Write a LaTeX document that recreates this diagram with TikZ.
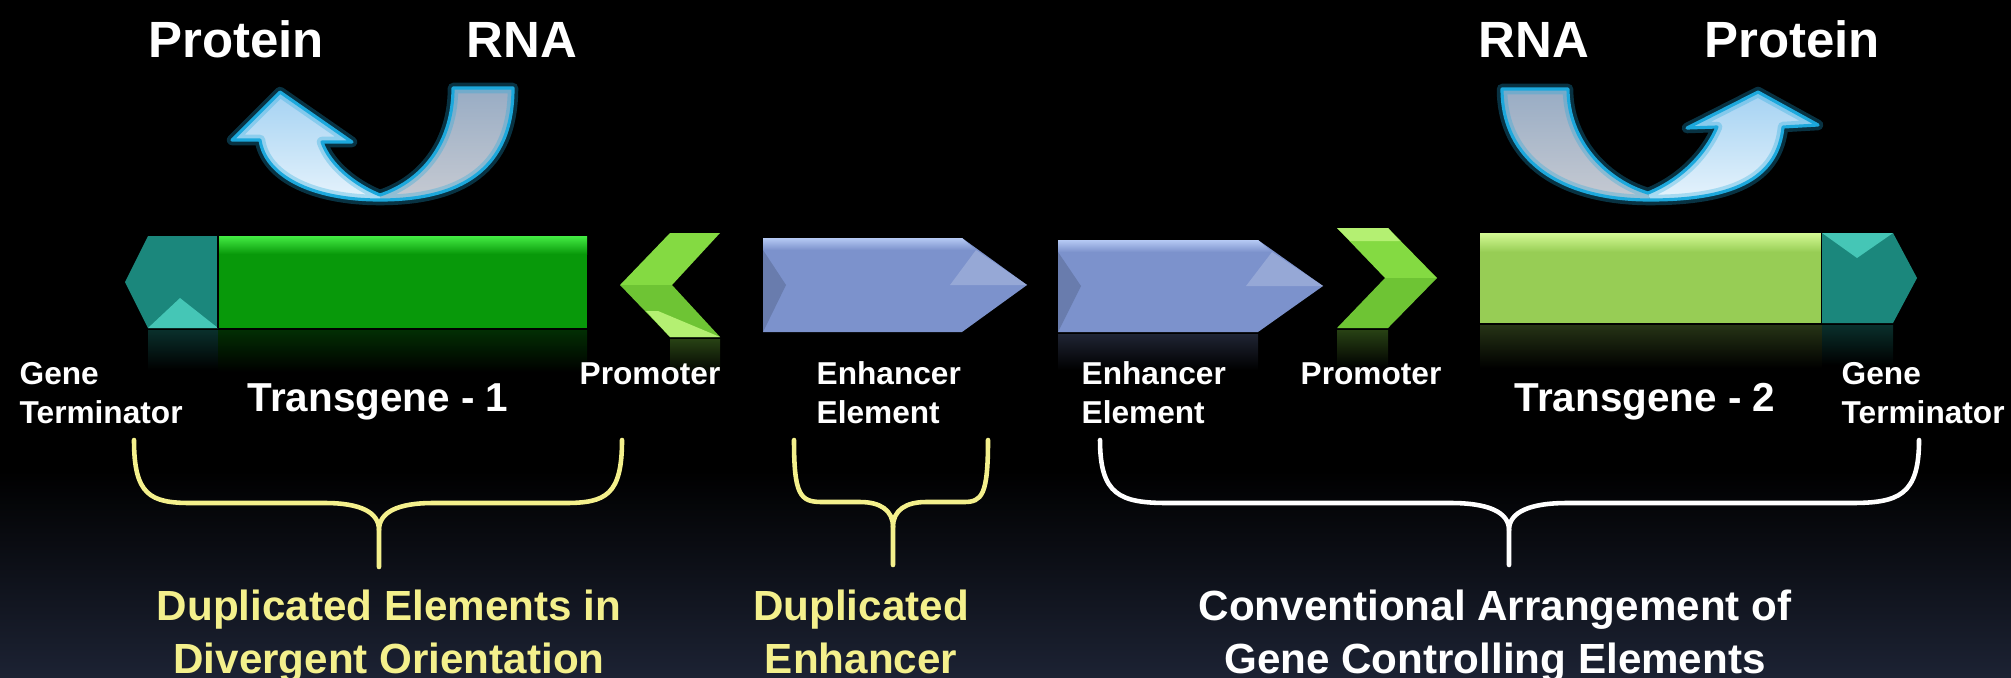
\documentclass[tikz,border=0pt]{standalone}
\usepackage{fontspec}
\setmainfont{Liberation Sans}
\definecolor{glow}{HTML}{1CA8DC}
\definecolor{bgbot}{HTML}{1C2233}
\definecolor{term}{HTML}{1B877C}
\definecolor{termlt}{HTML}{45C6B6}
\definecolor{tg1}{HTML}{08990A}
\definecolor{tg1lt}{HTML}{44EC44}
\definecolor{tg2}{HTML}{97CD55}
\definecolor{tg2lt}{HTML}{D4FA94}
\definecolor{prom}{HTML}{84DA42}
\definecolor{promdk}{HTML}{6EC434}
\definecolor{promlt}{HTML}{B4F072}
\definecolor{enh}{HTML}{7C92CC}
\definecolor{enhlt}{HTML}{B6CAF4}
\definecolor{pale}{HTML}{F4F08C}
\definecolor{protlt}{HTML}{E6F3FC}
\definecolor{protdk}{HTML}{A4D2F2}
\definecolor{rnalt}{HTML}{C6CAD2}
\definecolor{rnadk}{HTML}{98ACC4}
\begin{document}
\begin{tikzpicture}[x=.1mm,y=-.1mm,line join=round,
  toplbl/.style={text=white,inner sep=0pt,font=\bfseries\fontsize{14.5}{17}\selectfont},
  genelbl/.style={text=white,inner sep=0pt,font=\bfseries\fontsize{11.5}{14}\selectfont},
  lbl/.style={text=white,inner sep=0pt,align=left,font=\bfseries\fontsize{9}{11.1}\selectfont},
  capt/.style={inner sep=0pt,align=center,font=\bfseries\fontsize{12}{15}\selectfont},
  brc/.style={line width=1.3pt,line cap=round},
  rim/.style={draw=glow,line width=.9pt},
  halo/.style={draw=glow,line width=3pt,opacity=.3}]
  \fill[black] (0,0) rectangle (2011,677);
  \shade[top color=black,bottom color=bgbot] (0,470) rectangle (2011,677);
  \useasboundingbox (0,0) rectangle (2011,677);
  % reflections
  \shade[top color=term!35!black,bottom color=black] (148,330) rectangle (218,370);
  \shade[top color=tg1!30!black,bottom color=black] (218,330) rectangle (587,372);
  \shade[top color=prom!30!black,bottom color=black] (670,339) rectangle (720,375);
  \shade[top color=enh!25!black,bottom color=black] (1058,334) rectangle (1258,370);
  \shade[top color=prom!30!black,bottom color=black] (1337,330) rectangle (1388,368);
  \shade[top color=tg2!25!black,bottom color=black] (1480,325) rectangle (1822,368);
  \shade[top color=term!35!black,bottom color=black] (1822,325) rectangle (1893,365);
  % gene terminator 1
  \fill[term] (125,282) -- (148,236) -- (218,236) -- (218,328) -- (148,328) -- cycle;
  \fill[termlt] (148,328) -- (180,298) -- (218,328) -- cycle;
  % transgene 1
  \fill[tg1] (218,236) rectangle (587,328);
  \shade[top color=tg1lt,bottom color=tg1] (218,236) rectangle (587,254);
  \draw[black,line width=.8pt] (218,236) -- (218,328);
  % promoter 1
  \fill[prom] (620,285) -- (670,233) -- (720,233) -- (672,285) -- cycle;
  \fill[promdk] (620,285) -- (672,285) -- (720,337) -- (670,337) -- cycle;
  \fill[promlt] (646,311) -- (658,311) -- (720,337) -- (670,337) -- cycle;
  % enhancer 1
  \fill[enh] (763,238) -- (962,238) -- (1027,285) -- (962,332) -- (763,332) -- cycle;
  \shade[top color=enhlt,bottom color=enh] (763,238) -- (962,238) -- (976,250) -- (763,250) -- cycle;
  \fill[enh!80!white] (976,250) -- (1027,285) -- (950,285) -- cycle;
  \fill[enh!85!black] (763,250) -- (786,285) -- (763,332) -- cycle;
  % enhancer 2
  \fill[enh] (1058,240) -- (1258,240) -- (1323,286) -- (1258,332) -- (1058,332) -- cycle;
  \shade[top color=enhlt,bottom color=enh] (1058,240) -- (1258,240) -- (1272,252) -- (1058,252) -- cycle;
  \fill[enh!80!white] (1272,252) -- (1323,286) -- (1246,286) -- cycle;
  \fill[enh!85!black] (1058,252) -- (1081,286) -- (1058,332) -- cycle;
  % promoter 2
  \fill[prom] (1337,228) -- (1388,228) -- (1437,278) -- (1385,278) -- cycle;
  \fill[promdk] (1385,278) -- (1437,278) -- (1388,328) -- (1337,328) -- cycle;
  \fill[promlt] (1337,228) -- (1388,228) -- (1400,241) -- (1350,241) -- cycle;
  % transgene 2
  \fill[tg2] (1480,233) rectangle (1822,323);
  \shade[top color=tg2lt,bottom color=tg2] (1480,233) rectangle (1822,252);
  \draw[black,line width=.8pt] (1822,233) -- (1822,323);
  % gene terminator 2
  \fill[term] (1822,233) -- (1893,233) -- (1917,278) -- (1893,323) -- (1822,323) -- cycle;
  \fill[termlt] (1822,233) -- (1893,233) -- (1857,258) -- cycle;
  % left transcription arrow
  \shade[top color=rnadk,bottom color=rnalt] (453,88) -- (513,88) .. controls (513,170) and (460,200) .. (380,200)
    -- (380,195) .. controls (425,180) and (453,140) .. (453,88) -- cycle;
  \shade[top color=protdk,bottom color=protlt] (380,200) .. controls (310,200) and (265,175) .. (260,140)
    -- (232,140) -- (280,92) -- (352,142) -- (322,142) .. controls (330,165) and (355,185) .. (380,195) -- cycle;
  \foreach \s in {halo,rim}
    \draw[\s] (453,88) -- (513,88) .. controls (513,170) and (460,200) .. (380,200)
      .. controls (310,200) and (265,175) .. (260,140) -- (232,140) -- (280,92) -- (352,142) -- (322,142)
      .. controls (330,165) and (355,185) .. (380,195) .. controls (425,180) and (453,140) .. (453,88) -- cycle;
  % right transcription arrow
  \shade[top color=rnadk,bottom color=rnalt] (1502,89) -- (1568,89) .. controls (1568,140) and (1605,180) .. (1648,193)
    -- (1650,200) .. controls (1560,200) and (1502,160) .. (1502,89) -- cycle;
  \shade[top color=protdk,bottom color=protlt] (1648,193) .. controls (1680,180) and (1705,155) .. (1717,127)
    -- (1687,128) -- (1758,92) -- (1818,125) -- (1783,127) .. controls (1778,175) and (1740,200) .. (1650,200) -- cycle;
  \foreach \s in {halo,rim}
    \draw[\s] (1502,89) -- (1568,89) .. controls (1568,140) and (1605,180) .. (1648,193)
      .. controls (1680,180) and (1705,155) .. (1717,127) -- (1687,128) -- (1758,92) -- (1818,125) -- (1783,127)
      .. controls (1778,175) and (1740,200) .. (1650,200) .. controls (1560,200) and (1502,160) .. (1502,89) -- cycle;
  % top labels
  \node[toplbl,anchor=base] (prot1) at (236,57) {Protein};
  \node[toplbl,anchor=base] (rna1) at (522,57) {RNA};
  \node[toplbl,anchor=base] (rna2) at (1534,57) {RNA};
  \node[toplbl,anchor=base] (prot2) at (1792,57) {Protein};
  % element labels (base = last line)
  \node[lbl,anchor=base west] (term1) at (19,423) {Gene\\Terminator};
  \node[genelbl,anchor=base] (gene1) at (378,411) {Transgene - 1};
  \node[lbl,anchor=base] (prom1) at (650,384) {Promoter};
  \node[lbl,anchor=base west] (enh1) at (816,423) {Enhancer\\Element};
  \node[lbl,anchor=base west] (enh2) at (1081,423) {Enhancer\\Element};
  \node[lbl,anchor=base] (prom2) at (1371,384) {Promoter};
  \node[genelbl,anchor=base] (gene2) at (1645,411) {Transgene - 2};
  \node[lbl,anchor=base west] (term2) at (1841,423) {Gene\\Terminator};
  % braces
  \draw[brc,pale] (134,440) .. controls (134,495) and (150,503) .. (191,503) -- (325,503)
    .. controls (360,503) and (379,512) .. (379,530) -- (379,567);
  \draw[brc,pale] (622,440) .. controls (622,495) and (606,503) .. (565,503) -- (433,503)
    .. controls (398,503) and (379,512) .. (379,530);
  \draw[brc,pale] (794,440) .. controls (794,495) and (800,502) .. (822,502) -- (860,502)
    .. controls (880,502) and (893,510) .. (893,527) -- (893,565);
  \draw[brc,pale] (988,440) .. controls (988,495) and (982,502) .. (964,502) -- (926,502)
    .. controls (906,502) and (893,510) .. (893,527);
  \draw[brc,white] (1100,440) .. controls (1100,495) and (1120,503) .. (1168,503) -- (1451,503)
    .. controls (1488,503) and (1509,512) .. (1509,530) -- (1509,565);
  \draw[brc,white] (1919,440) .. controls (1919,495) and (1899,503) .. (1851,503) -- (1567,503)
    .. controls (1530,503) and (1509,512) .. (1509,530);
  % group captions (base = last line)
  \node[capt,text=pale,anchor=base] (div) at (389,673) {Duplicated Elements in\\Divergent Orientation};
  \node[capt,text=pale,anchor=base] (dup) at (861,673) {Duplicated\\Enhancer};
  \node[capt,text=white,anchor=base] (conv) at (1495,673) {Conventional Arrangement of\\Gene Controlling Elements};
\end{tikzpicture}
\end{document}
